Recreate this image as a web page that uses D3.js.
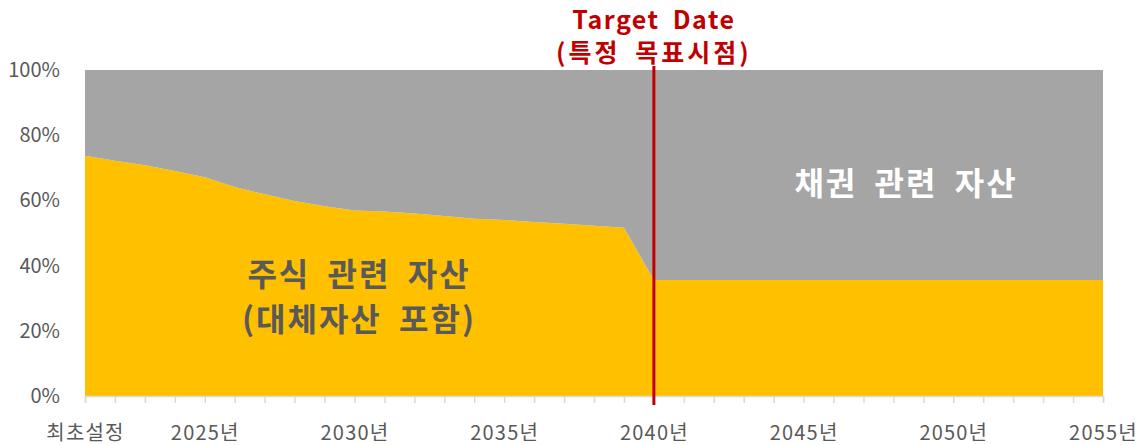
<!DOCTYPE html>
<html><head><meta charset="utf-8">
<script src="https://cdn.jsdelivr.net/npm/d3@7"></script>
<style>body{margin:0;background:#fff;} svg{display:block;}</style>
</head><body>
<svg id="chart" width="1145" height="445"></svg>
<script>
const categories = ["최초설정","2022","2023","2024","2025","2026","2027","2028","2029","2030","2031","2032","2033","2034","2035","2036","2037","2038","2039","2040","2041","2042","2043","2044","2045","2046","2047","2048","2049","2050","2051","2052","2053","2054","2055"];
const equity = [73.7,72.2,70.8,69.0,67.1,64.1,61.9,59.8,58.2,56.9,56.6,56.0,55.2,54.4,54.0,53.4,52.8,52.2,51.6,35.6,35.6,35.6,35.6,35.6,35.6,35.6,35.6,35.6,35.6,35.6,35.6,35.6,35.6,35.6,35.6];
const bond = equity.map(v => 100 - v);
const yTicks = [0,20,40,60,80,100];
const xLabels = {"최초설정":"최초설정","2025":"2025년","2030":"2030년","2035":"2035년","2040":"2040년","2045":"2045년","2050":"2050년","2055":"2055년"};
const targetCategory = "2040";

const font = "'Noto Sans CJK KR','Noto Sans',sans-serif";
const svg = d3.select("#chart");
const m = {left:85, right:1103, top:70, bottom:396};
const x = d3.scalePoint().domain(categories).range([m.left, m.right]);
const y = d3.scaleLinear().domain([0,100]).range([m.bottom, m.top]);

const rows = categories.map((c,i)=>({c, equity:equity[i], bond:bond[i]}));
const stack = d3.stack().keys(["equity","bond"])(rows);
const colors = {equity:"#FFC000", bond:"#A5A5A5"};
const area = d3.area().x(d=>x(d.data.c)).y0(d=>y(d[0])).y1(d=>y(d[1]));
svg.append("g").selectAll("path").data(stack).join("path")
  .attr("d", area).attr("fill", d=>colors[d.key]);

// x axis
const xAxis = d3.axisBottom(x).tickSize(7).tickFormat(d => xLabels[d] || "");
const gx = svg.append("g").attr("transform", `translate(0,${m.bottom})`).call(xAxis);
gx.select(".domain").attr("stroke","#D9D9D9").attr("stroke-width",1.5);
gx.selectAll(".tick line").attr("stroke","#D9D9D9").attr("stroke-width",1.5);
gx.selectAll(".tick text").attr("font-family",font).attr("font-size",20).attr("fill","#595959")
  .attr("letter-spacing",1.2).attr("dy",0).attr("y",44);

// y axis labels
const gy = svg.append("g").attr("transform", `translate(${m.left},0)`)
  .call(d3.axisLeft(y).tickValues(yTicks).tickSize(0).tickPadding(25).tickFormat(d=>d+"%"));
gy.select(".domain").remove();
gy.selectAll(".tick text").attr("font-family",font).attr("font-size",20).attr("fill","#595959");

// target line
const tx = x(targetCategory);
svg.append("line").attr("x1",tx).attr("x2",tx).attr("y1",66).attr("y2",405)
  .attr("stroke","#C00000").attr("stroke-width",3);
svg.append("text").attr("x",tx).attr("y",29).attr("text-anchor","middle")
  .attr("font-family",font).attr("font-weight","bold").attr("font-size",25).attr("letter-spacing",1.5).attr("word-spacing",6)
  .attr("fill","#C00000").text("Target Date");
svg.append("text").attr("x",tx).attr("y",62).attr("text-anchor","middle")
  .attr("font-family",font).attr("font-weight","bold").attr("font-size",25).attr("letter-spacing",3).attr("word-spacing",6)
  .attr("fill","#C00000").text("(특정 목표시점)");

// labels
function bigLabel(txt, cx, cy, fill){
  svg.append("text").attr("x",cx).attr("y",cy).attr("text-anchor","middle")
    .attr("font-family",font).attr("font-weight","bold").attr("font-size",32)
    .attr("letter-spacing",2).attr("word-spacing",8).attr("fill",fill).text(txt);
}
bigLabel("주식 관련 자산", 359, 286, "#595959");
bigLabel("(대체자산 포함)", 359, 331, "#595959");
bigLabel("채권 관련 자산", 906, 195, "#FFFFFF");
</script>
</body></html>
